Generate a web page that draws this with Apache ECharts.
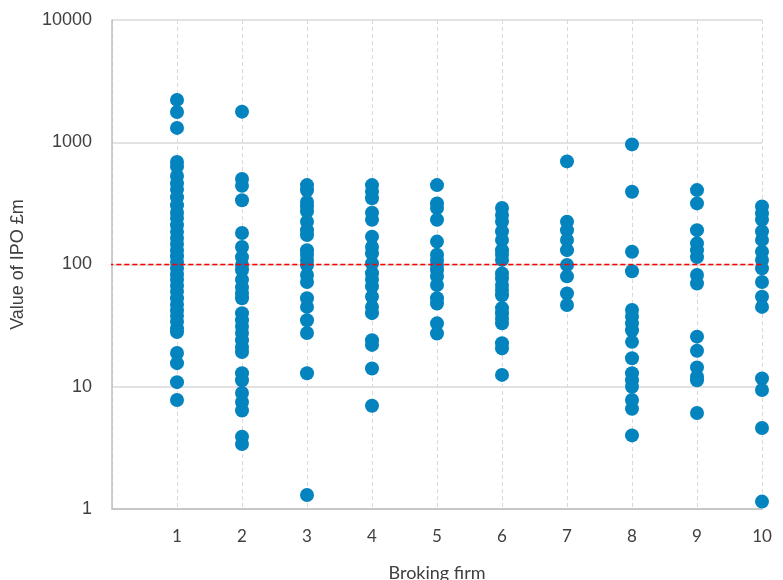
<!DOCTYPE html>
<html>
<head>
<meta charset="utf-8">
<script src="https://cdn.jsdelivr.net/npm/echarts@6/dist/echarts.min.js"></script>
<style>
  html, body { margin: 0; padding: 0; background: #fff; }
  #chart { width: 783px; height: 580px; }
</style>
</head>
<body>
<div id="chart"></div>
<script>
// IPO values (£m), one array per broking firm
const firm1 = [2220, 1770, 1310, 690, 630, 530, 460, 410, 355, 305, 265, 240, 210, 185, 165, 147, 130, 117, 105, 93, 83, 75, 67, 60, 53, 47, 42, 38, 34, 30, 28, 18.9, 15.6, 10.9, 7.8]
const firm2 = [1780, 500, 440, 335, 181, 139, 115, 99, 90, 75, 65, 58, 53, 40, 35, 31, 27.5, 24, 21, 19.2, 12.9, 11.3, 8.9, 7.5, 6.4, 3.9, 3.4]
const firm3 = [446, 405, 325, 298, 272, 224, 191, 174, 131, 120, 109, 99, 82, 72, 53, 45, 35, 27.5, 12.9, 1.3]
const firm4 = [446, 394, 348, 265, 232, 169, 139, 123, 102, 85, 75, 66, 54.5, 45, 40, 24, 22, 14.1, 7.0]
const firm5 = [446, 316, 290, 232, 154, 120, 109, 99, 90, 80, 68, 53, 48, 33, 27.3]
const firm6 = [290, 254, 224, 186, 159, 131, 120, 109, 84.5, 77, 68, 62, 56, 44, 40, 36, 33, 22.7, 20.6, 12.5]
const firm7 = [697, 224, 191, 159, 131, 99, 80, 58, 46.6]
const firm8 = [960, 394, 127, 88, 42.4, 37.4, 33, 29, 23.3, 17.1, 12.9, 11.3, 10, 7.8, 6.6, 4.0]
const firm9 = [406, 316, 191, 149, 131, 115, 82, 70, 25.7, 19.7, 14.4, 12.1, 11.3, 6.1]
const firm10 = [298, 262, 232, 186, 159, 127, 109, 93, 72, 54.5, 45, 11.7, 9.4, 4.6, 1.15]

const firms = [firm1, firm2, firm3, firm4, firm5, firm6, firm7, firm8, firm9, firm10]
const yTicks = [1, 10, 100, 1000, 10000]
const benchmark = 100
// the red reference line runs a little past both sides of the plot
const benchmarkSpan = [-0.18, 10.32]

let points = []
firms.forEach(function (vals, i) {
  vals.forEach(function (v) { points.push([i + 1, v]) })
})

let chart = echarts.init(document.getElementById('chart'))
chart.setOption({
  animation: false,
  grid: { left: 112, right: 21, top: 20, bottom: 71, outerBoundsMode: 'none' },
  xAxis: {
    type: 'value',
    min: 0,
    max: 10,
    interval: 1,
    name: 'Broking firm',
    nameLocation: 'middle',
    nameGap: 55,
    nameTextStyle: { fontFamily: 'Lato', fontSize: 18, color: '#404040' },
    axisLine: { show: true, onZero: false, lineStyle: { color: '#bfbfbf', width: 1.5 } },
    axisTick: { show: false },
    axisLabel: {
      margin: 19,
      fontFamily: 'Lato',
      fontSize: 17,
      color: '#404040',
      formatter: function (v) { return v === 0 ? '' : v }
    },
    splitLine: { show: true, lineStyle: { color: '#d9d9d9', type: [4, 3] } }
  },
  yAxis: {
    type: 'log',
    logBase: 10,
    min: yTicks[0],
    max: yTicks[yTicks.length - 1],
    name: 'Value of IPO £m',
    nameLocation: 'middle',
    nameGap: 85,
    nameTextStyle: { fontFamily: 'Liberation Sans', fontSize: 18, color: '#404040' },
    axisLine: { show: true, lineStyle: { color: '#bfbfbf', width: 1.5 } },
    axisTick: { show: false },
    axisLabel: {
      margin: 20,
      fontFamily: 'Liberation Sans',
      fontSize: 18,
      color: '#404040',
      formatter: function (v) { return String(v) }
    },
    splitLine: { show: true, lineStyle: { color: '#d9d9d9', width: 1.5 } }
  },
  series: [
    {
      type: 'scatter',
      data: points,
      symbolSize: 14,
      clip: false,
      itemStyle: { color: '#0384be', opacity: 1 }
    },
    {
      type: 'line',
      data: benchmarkSpan.map(function (x) { return [x, benchmark] }),
      clip: false,
      showSymbol: false,
      silent: true,
      z: 3,
      lineStyle: { color: '#ff0000', type: [5, 3], width: 1.5 }
    }
  ]
})
</script>
</body>
</html>
